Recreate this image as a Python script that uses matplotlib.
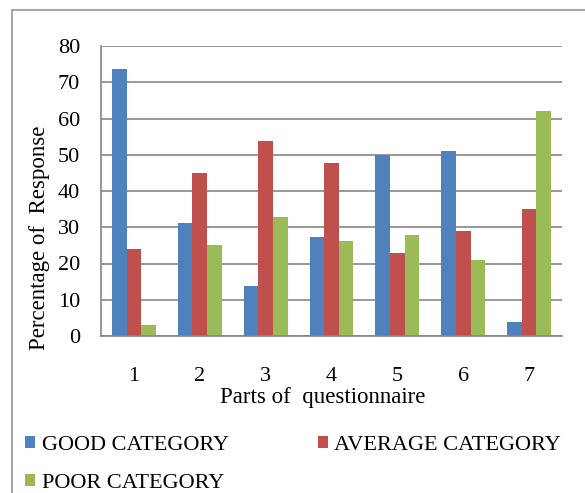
import matplotlib.pyplot as plt
import numpy as np
from matplotlib.patches import Rectangle

parts = ["1", "2", "3", "4", "5", "6", "7"]
good = [73.7, 31.1, 13.9, 27.2, 50.0, 50.9, 4.0]
average = [23.9, 44.9, 53.7, 47.6, 22.8, 28.9, 34.9]
poor = [2.9, 25.0, 32.7, 26.1, 27.8, 21.1, 62.0]

plt.rcParams['font.family'] = ['Liberation Serif', 'DejaVu Serif']

fig = plt.figure(figsize=(5.85, 4.93), dpi=100)
ax = fig.add_axes([101 / 585, 1 - 336 / 493, 461 / 585, 290 / 493])

# outer chart frame, runs off the right and bottom edge like the original
fig.patches.append(Rectangle((12 / 585, -0.05), 1.1, 1 - 10 / 493 + 0.05,
                             transform=fig.transFigure, fill=False,
                             edgecolor='#a6a6a6', linewidth=1.5))

x = np.arange(len(parts)) + 0.5
w = 1 / 4.5
b1 = ax.bar(x - w, good, w, color='#4F81BD', label='GOOD CATEGORY')
b2 = ax.bar(x, average, w, color='#C0504D', label='AVERAGE CATEGORY')
b3 = ax.bar(x + w, poor, w, color='#9BBB59', label='POOR CATEGORY')

ax.set_xlim(0, 7)
ax.set_ylim(0, 80)
ax.set_yticks(range(0, 81, 10))
ax.set_xticks(x)
ax.set_xticklabels(parts)
ax.yaxis.grid(True, color='#868686', linewidth=1.2)
ax.set_axisbelow(True)
for s in ['top', 'right']:
    ax.spines[s].set_visible(False)
for s in ['left', 'bottom']:
    ax.spines[s].set_color('#868686')
    ax.spines[s].set_linewidth(1.2)
ax.tick_params(length=0, labelsize=16)
ax.tick_params(axis='y', pad=15)
ax.tick_params(axis='x', pad=22)

ax.set_ylabel('Percentage of  Response', fontsize=16.5)
ax.yaxis.label.set_va('center')
ax.yaxis.set_label_coords(-61 / 461, (336 - 238) / 290)
ax.set_xlabel('Parts of  questionnaire', fontsize=16.5)
ax.xaxis.label.set_va('center')
ax.xaxis.set_label_coords(0.5 + (322 - 331) / 461, (336 - 398) / 290)

fig.legend([b1, b3, b2], ['GOOD CATEGORY', 'POOR CATEGORY', 'AVERAGE CATEGORY'],
           loc='upper left', bbox_to_anchor=(25 / 585, 1 - 436 / 493), ncol=2,
           frameon=False, fontsize=16, handlelength=0.45, handleheight=0.45,
           handletextpad=0.3, columnspacing=4.0, labelspacing=0.86,
           borderpad=0, borderaxespad=0)

fig.savefig('out.png', dpi=100)
